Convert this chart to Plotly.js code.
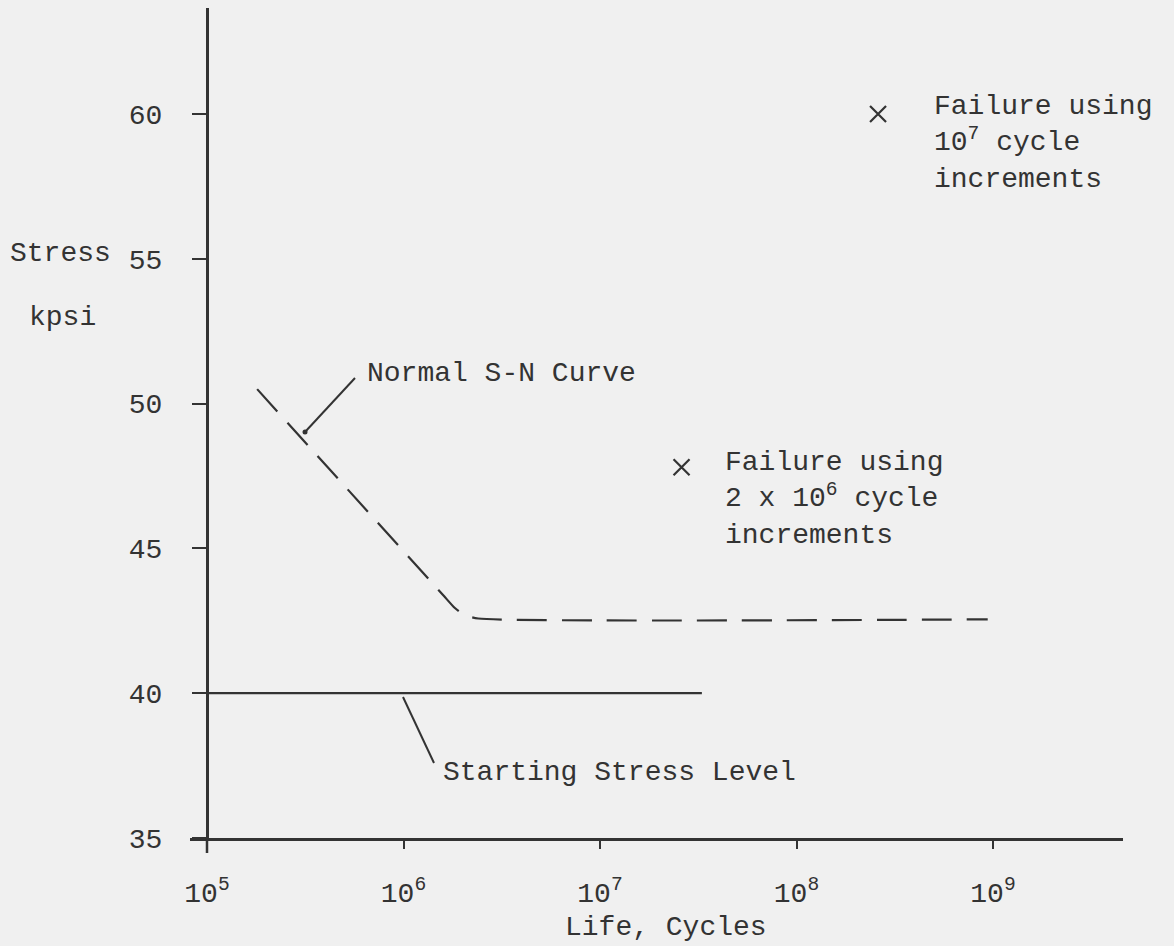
<!DOCTYPE html>
<html>
<head>
<meta charset="utf-8">
<script src="https://cdn.plot.ly/plotly-3.0.1.min.js"></script>
<style>html,body{margin:0;padding:0;background:#f0f0f0;}#chart{width:1174px;height:946px;}</style>
</head>
<body>
<div id="chart"></div>
<script>
// ---- data ----
const snCycles = [1.8e5, 1.585e6, 1.82e6, 2.04e6, 2.4e6, 9.4e8];
const snStress = [50.5, 43.4, 42.95, 42.7, 42.58, 42.55];
const startCycles = [1e5, 3.3e7];
const startStress = [40, 40];
const failCycles = [2.6e7, 2.6e8];
const failStress = [47.8, 60.0];
const xTickExponents = [5, 6, 7, 8, 9];
const yTickValues = [35, 40, 45, 50, 55, 60];

const INK = '#333333';
const FONT = 'Liberation Mono, Courier New, monospace';

const traces = [
  {x: snCycles, y: snStress, mode: 'lines', type: 'scatter',
   line: {color: INK, width: 2.2, dash: '30px,15px', shape: 'spline', smoothing: 0.6},
   hoverinfo: 'skip', showlegend: false},
  {x: startCycles, y: startStress, mode: 'lines', type: 'scatter',
   line: {color: INK, width: 2.2}, hoverinfo: 'skip', showlegend: false},
  {x: failCycles, y: failStress, mode: 'markers', type: 'scatter',
   marker: {symbol: 'x-thin', size: 16, color: INK, line: {color: INK, width: 2.2}},
   hoverinfo: 'skip', showlegend: false}
];

const W = 933, H = 830; // plot area size in px
function px(xp) { return (xp - 190) / W; }
function py(yp) { return (838 - yp) / H; }

const ann = (text, x, y, xanchor) => ({
  text: text, xref: 'paper', yref: 'paper', x: x, y: y,
  xanchor: xanchor || 'left', yanchor: 'middle', showarrow: false, align: 'left',
  font: {family: FONT, size: 28, color: INK}
});

const layout = {
  width: 1174, height: 946,
  margin: {l: 190, r: 51, t: 8, b: 108, pad: 0},
  paper_bgcolor: '#f0f0f0', plot_bgcolor: 'rgba(0,0,0,0)',
  font: {family: FONT, size: 28, color: INK},
  showlegend: false,
  xaxis: {
    type: 'log', range: [4.9135, 9.6616],
    showgrid: false, zeroline: false,
    showline: true, linecolor: INK, linewidth: 2.5,
    ticks: 'outside', ticklen: 8, tickwidth: 2, tickcolor: INK,
    tickvals: xTickExponents.map(e => Math.pow(10, e)),
    ticktext: xTickExponents.map(e => '10<sup>' + e + '</sup>'),
    ticklabelstandoff: 20,
    tickfont: {family: FONT, size: 28, color: INK}
  },
  yaxis: {
    range: [35, 63.66], anchor: 'free', position: 17 / W,
    showgrid: false, zeroline: false,
    showline: true, linecolor: INK, linewidth: 2.5,
    ticks: 'outside', ticklen: 14, tickwidth: 2, tickcolor: INK,
    tickvals: yTickValues, ticktext: yTickValues.map(String),
    ticklabelstandoff: 24,
    tickfont: {family: FONT, size: 28, color: INK}
  },
  shapes: [
    // y-axis extension below the x-axis
    {type: 'line', xref: 'paper', yref: 'paper', x0: 17 / W, x1: 17 / W, y0: 0, y1: -15 / H,
     line: {color: INK, width: 2.5}},
    // leader for Normal S-N Curve
    {type: 'line', xref: 'paper', yref: 'paper', x0: px(355), y0: py(378), x1: px(305), y1: py(432),
     line: {color: INK, width: 2}},
    {type: 'circle', xref: 'paper', yref: 'paper', x0: px(302.5), x1: px(307.5), y0: py(429.5), y1: py(434.5),
     fillcolor: INK, line: {color: INK, width: 0}},
    // leader for Starting Stress Level
    {type: 'line', xref: 'paper', yref: 'paper', x0: px(403), y0: py(697), x1: px(434), y1: py(763),
     line: {color: INK, width: 2}}
  ],
  annotations: [
    ann('Normal S-N Curve', px(365), py(373)),
    ann('Starting Stress Level', px(441), py(772)),
    ann('Failure using<br>2 x 10<sup>6</sup> cycle<br>increments', px(723), py(499)),
    ann('Failure using<br>10<sup>7</sup> cycle<br>increments', px(932), py(143)),
    ann('Stress', px(8), py(253)),
    ann('kpsi', px(27), py(317)),
    ann('Life, Cycles', px(666), py(927), 'center')
  ]
};

Plotly.newPlot('chart', traces, layout, {staticPlot: true, displayModeBar: false});
</script>
</body>
</html>
